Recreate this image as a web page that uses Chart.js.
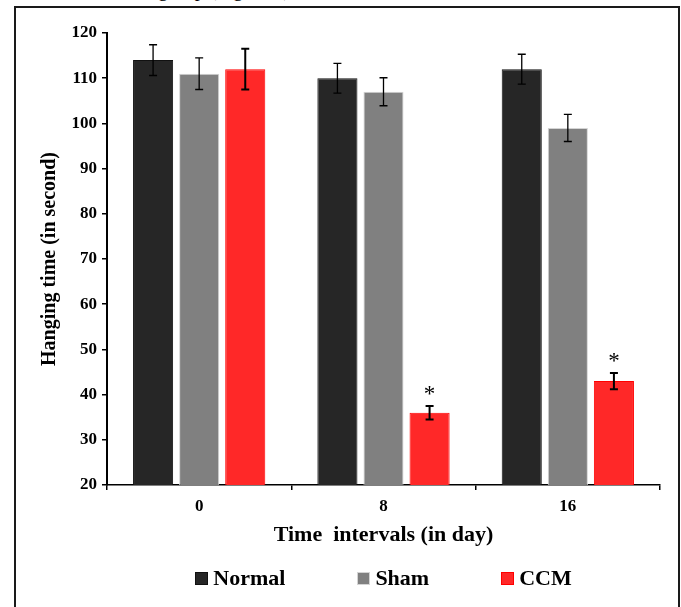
<!DOCTYPE html>
<html>
<head>
<meta charset="utf-8">
<script src="https://cdn.jsdelivr.net/npm/chart.js@4.4.1/dist/chart.umd.min.js"></script>
<style>
html, body { margin: 0; padding: 0; background: #fff; overflow: hidden; }
#wrap { position: relative; width: 681px; height: 607px; overflow: hidden; }
#above { position: absolute; left: 158px; top: -22px; font: 20px 'Liberation Serif', serif; white-space: nowrap; color: #000; }
#frame { position: absolute; left: 14px; top: 6px; width: 662px; height: 640px; border: 2px solid #1a1a1a; border-bottom: none; }
canvas { position: absolute; left: 0; top: 0; }
#legend { position: absolute; top: 565px; display: flex; justify-content: center; gap: 72px; font: bold 22px 'Liberation Serif', serif; color: #000; }
.item { display: flex; align-items: center; }
.box { width: 13px; height: 13px; margin-right: 5px; box-sizing: border-box; border: 1px solid; }
</style>
</head>
<body>
<div id="wrap">
  <div id="above">group (Figure 6).</div>
  <div id="frame"></div>
  <canvas id="chart" width="681" height="607"></canvas>
  <div id="legend"></div>
</div>
<script>
// --- data ---
var days = ['0', '8', '16'];
var seriesNames = ['Normal', 'Sham', 'CCM'];
var normalMean = [114, 110, 112];
var normalErr = [3.4, 3.3, 3.3];
var shamMean = [111, 107, 99];
var shamErr = [3.5, 3.1, 3.0];
var ccmMean = [112, 36, 43];
var ccmErr = [4.5, 1.5, 1.8];
var ccmStar = [false, true, true];
var yMin = 20, yMax = 120, yStep = 10;

var fills = ['#262626', '#808080', '#ff2828'];
var borders = ['#111111', '#d4d4d4', '#ff0000'];

// error bars + significance stars
var errorBars = {
    id: 'errorBars',
    afterDatasetsDraw: function(chart) {
        var ctx = chart.ctx;
        var y = chart.scales.y;
        chart.data.datasets.forEach(function(ds, i) {
            var meta = chart.getDatasetMeta(i);
            meta.data.forEach(function(bar, j) {
                var v = ds.data[j], e = ds.errors[j];
                var top = y.getPixelForValue(v + e);
                var bot = y.getPixelForValue(v - e);
                ctx.save();
                ctx.strokeStyle = '#000';
                ctx.lineWidth = ds.errWidth;
                ctx.beginPath();
                ctx.moveTo(bar.x, top); ctx.lineTo(bar.x, bot);
                ctx.moveTo(bar.x - 4, top); ctx.lineTo(bar.x + 4, top);
                ctx.moveTo(bar.x - 4, bot); ctx.lineTo(bar.x + 4, bot);
                ctx.stroke();
                if (ds.stars && ds.stars[j]) {
                    ctx.fillStyle = '#000';
                    ctx.font = '23px "Liberation Serif", serif';
                    ctx.textAlign = 'center';
                    ctx.textBaseline = 'alphabetic';
                    ctx.fillText('*', bar.x, top - 5);
                }
                ctx.restore();
            });
        });
    }
};

function makeSet(i, data, errs, w, stars) {
    return {
        label: seriesNames[i],
        data: data,
        errors: errs,
        errWidth: w,
        stars: stars,
        backgroundColor: fills[i],
        borderColor: borders[i],
        borderWidth: 1
    };
}

var tickFont = { family: '"Liberation Serif", serif', size: 17, weight: 'bold' };

var chart = new Chart(document.getElementById('chart').getContext('2d'), {
    type: 'bar',
    data: {
        labels: days,
        datasets: [
            makeSet(0, normalMean, normalErr, 1.3, null),
            makeSet(1, shamMean, shamErr, 1.3, null),
            makeSet(2, ccmMean, ccmErr, 2, ccmStar)
        ]
    },
    options: {
        responsive: false,
        animation: false,
        categoryPercentage: 0.75,
        barPercentage: 0.87,
        layout: { padding: { left: 34, right: 21, top: 33, bottom: 52 } },
        plugins: {
            legend: { display: false },
            tooltip: { enabled: false }
        },
        scales: {
            x: {
                grid: { display: true, drawOnChartArea: false, drawTicks: true, tickLength: 5, color: '#000', lineWidth: 1.5 },
                border: { color: '#000', width: 1.5 },
                ticks: { color: '#000', font: tickFont, padding: 6 },
                title: {
                    display: true,
                    text: 'Time  intervals (in day)',
                    color: '#000',
                    font: { family: '"Liberation Serif", serif', size: 22, weight: 'bold' },
                    padding: { top: 4, bottom: 6 }
                },
                afterFit: function(s) { s.height = 70; }
            },
            y: {
                min: yMin,
                max: yMax,
                grid: { display: true, drawOnChartArea: false, drawTicks: true, tickLength: 5, color: '#000', lineWidth: 1.5 },
                border: { color: '#000', width: 2 },
                ticks: { stepSize: yStep, color: '#000', font: tickFont, padding: 5 },
                title: {
                    display: true,
                    text: 'Hanging time (in second)',
                    color: '#000',
                    font: { family: '"Liberation Serif", serif', size: 20, weight: 'bold' },
                    padding: { top: 4, bottom: 4 }
                },
                afterFit: function(s) { s.width = 73; }
            }
        }
    },
    plugins: [errorBars]
});

// legend as page text, centred on the plot area
var legend = document.getElementById('legend');
legend.style.left = chart.chartArea.left + 'px';
legend.style.width = (chart.chartArea.right - chart.chartArea.left) + 'px';
seriesNames.forEach(function(name, i) {
    var item = document.createElement('div');
    item.className = 'item';
    var box = document.createElement('span');
    box.className = 'box';
    box.style.background = fills[i];
    box.style.borderColor = borders[i];
    var txt = document.createElement('span');
    txt.textContent = name;
    item.append(box, txt);
    legend.appendChild(item);
});
</script>
</body>
</html>
